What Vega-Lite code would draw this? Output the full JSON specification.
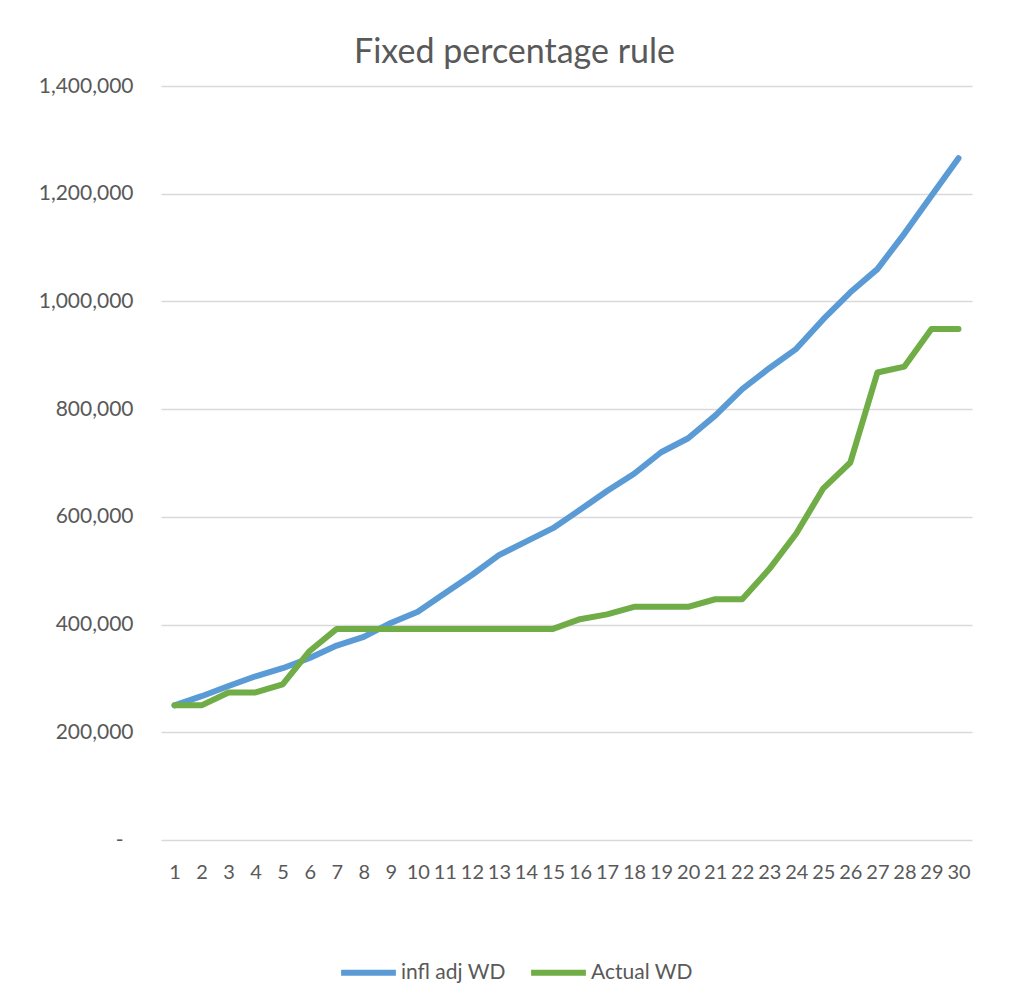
{
  "$schema": "https://vega.github.io/schema/vega-lite/v6.json",
  "width": 811,
  "height": 754,
  "autosize": {"type": "none"},
  "padding": {"left": 161, "top": 86, "right": 38, "bottom": 166},
  "background": "white",
  "title": {
    "text": "Fixed percentage rule",
    "anchor": "middle",
    "dx": -52,
    "offset": 5,
    "font": "Lato",
    "fontSize": 34,
    "fontWeight": "normal",
    "color": "#595959"
  },
  "data": {
    "values": [
      {"year": 1, "series": "infl adj WD", "value": 250000},
      {"year": 2, "series": "infl adj WD", "value": 267000},
      {"year": 3, "series": "infl adj WD", "value": 286000},
      {"year": 4, "series": "infl adj WD", "value": 304000},
      {"year": 5, "series": "infl adj WD", "value": 319000},
      {"year": 6, "series": "infl adj WD", "value": 338000},
      {"year": 7, "series": "infl adj WD", "value": 361000},
      {"year": 8, "series": "infl adj WD", "value": 377000},
      {"year": 9, "series": "infl adj WD", "value": 403000},
      {"year": 10, "series": "infl adj WD", "value": 424000},
      {"year": 11, "series": "infl adj WD", "value": 458000},
      {"year": 12, "series": "infl adj WD", "value": 492000},
      {"year": 13, "series": "infl adj WD", "value": 529000},
      {"year": 14, "series": "infl adj WD", "value": 554000},
      {"year": 15, "series": "infl adj WD", "value": 579000},
      {"year": 16, "series": "infl adj WD", "value": 613000},
      {"year": 17, "series": "infl adj WD", "value": 648000},
      {"year": 18, "series": "infl adj WD", "value": 680000},
      {"year": 19, "series": "infl adj WD", "value": 720000},
      {"year": 20, "series": "infl adj WD", "value": 746000},
      {"year": 21, "series": "infl adj WD", "value": 788000},
      {"year": 22, "series": "infl adj WD", "value": 837000},
      {"year": 23, "series": "infl adj WD", "value": 876000},
      {"year": 24, "series": "infl adj WD", "value": 912000},
      {"year": 25, "series": "infl adj WD", "value": 967000},
      {"year": 26, "series": "infl adj WD", "value": 1017000},
      {"year": 27, "series": "infl adj WD", "value": 1060000},
      {"year": 28, "series": "infl adj WD", "value": 1126000},
      {"year": 29, "series": "infl adj WD", "value": 1196000},
      {"year": 30, "series": "infl adj WD", "value": 1266000},
      {"year": 1, "series": "Actual WD", "value": 250000},
      {"year": 2, "series": "Actual WD", "value": 250000},
      {"year": 3, "series": "Actual WD", "value": 274000},
      {"year": 4, "series": "Actual WD", "value": 274000},
      {"year": 5, "series": "Actual WD", "value": 289000},
      {"year": 6, "series": "Actual WD", "value": 351000},
      {"year": 7, "series": "Actual WD", "value": 392000},
      {"year": 8, "series": "Actual WD", "value": 392000},
      {"year": 9, "series": "Actual WD", "value": 392000},
      {"year": 10, "series": "Actual WD", "value": 392000},
      {"year": 11, "series": "Actual WD", "value": 392000},
      {"year": 12, "series": "Actual WD", "value": 392000},
      {"year": 13, "series": "Actual WD", "value": 392000},
      {"year": 14, "series": "Actual WD", "value": 392000},
      {"year": 15, "series": "Actual WD", "value": 392000},
      {"year": 16, "series": "Actual WD", "value": 410000},
      {"year": 17, "series": "Actual WD", "value": 419000},
      {"year": 18, "series": "Actual WD", "value": 433000},
      {"year": 19, "series": "Actual WD", "value": 433000},
      {"year": 20, "series": "Actual WD", "value": 433000},
      {"year": 21, "series": "Actual WD", "value": 447000},
      {"year": 22, "series": "Actual WD", "value": 447000},
      {"year": 23, "series": "Actual WD", "value": 503000},
      {"year": 24, "series": "Actual WD", "value": 569000},
      {"year": 25, "series": "Actual WD", "value": 653000},
      {"year": 26, "series": "Actual WD", "value": 701000},
      {"year": 27, "series": "Actual WD", "value": 868000},
      {"year": 28, "series": "Actual WD", "value": 879000},
      {"year": 29, "series": "Actual WD", "value": 949000},
      {"year": 30, "series": "Actual WD", "value": 949000}
    ]
  },
  "mark": {"type": "line", "strokeWidth": 6, "strokeCap": "round", "strokeJoin": "round"},
  "encoding": {
    "x": {
      "field": "year",
      "type": "ordinal",
      "scale": {"type": "point", "padding": 0.5},
      "axis": {
        "title": null,
        "labelAngle": 0,
        "labelOverlap": false,
        "domain": false,
        "ticks": false,
        "grid": false,
        "labelPadding": 22,
        "labelFont": "Lato",
        "labelFontSize": 20,
        "labelColor": "#595959"
      }
    },
    "y": {
      "field": "value",
      "type": "quantitative",
      "scale": {"domain": [0, 1400000], "nice": false},
      "axis": {
        "title": null,
        "values": [0, 200000, 400000, 600000, 800000, 1000000, 1200000, 1400000],
        "labelExpr": "datum.value == 0 ? '-' : format(datum.value, ',')",
        "domain": false,
        "ticks": false,
        "grid": true,
        "gridColor": "#D9D9D9",
        "gridWidth": 1.5,
        "labelPadding": {"condition": {"test": "datum.value == 0", "value": 38}, "value": 28},
        "labelFont": "Lato",
        "labelFontSize": 21,
        "labelColor": "#595959"
      }
    },
    "color": {
      "field": "series",
      "type": "nominal",
      "scale": {"domain": ["infl adj WD", "Actual WD"], "range": ["#5B9BD5", "#70AD47"]},
      "legend": {
        "title": null,
        "orient": "none",
        "direction": "horizontal",
        "legendX": 177,
        "legendY": 856,
        "symbolType": "stroke",
        "symbolSize": 3000,
        "symbolStrokeWidth": 6,
        "labelFont": "Lato",
        "labelFontSize": 21,
        "labelColor": "#595959",
        "labelOffset": 2,
        "columnPadding": 13
      }
    }
  },
  "config": {"view": {"stroke": null}}
}
